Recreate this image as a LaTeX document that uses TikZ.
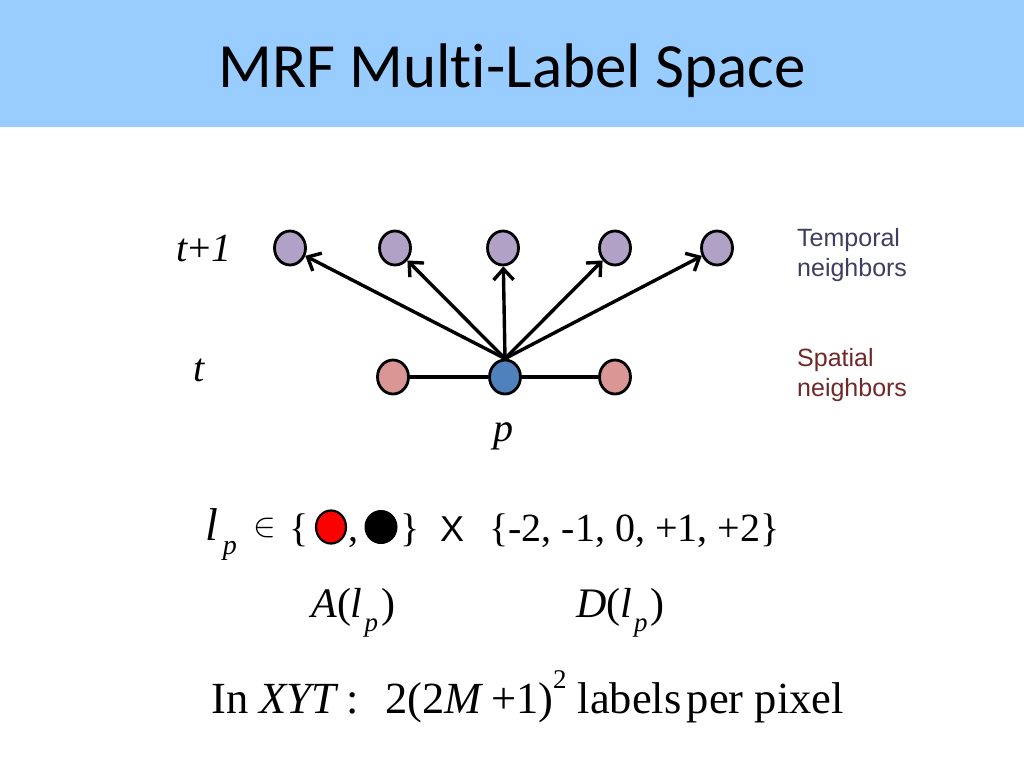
\documentclass[tikz,border=0pt]{standalone}
\usepackage{fontspec}
\usepackage{graphicx}
\setmainfont{Liberation Serif}
\newfontfamily\titlefont[Ligatures={NoCommon,NoDiscretionary,NoRare}]{Carlito}
\newfontfamily\arialfont{Liberation Sans}
\usetikzlibrary{arrows.meta,shapes.geometric}
\definecolor{band}{RGB}{153,204,255}
\definecolor{purp}{RGB}{178,161,199}
\definecolor{pinkc}{RGB}{217,150,148}
\definecolor{bluec}{RGB}{79,129,189}
\definecolor{tempc}{RGB}{64,62,96}
\definecolor{spatc}{RGB}{112,40,40}
\newcommand{\sub}[2]{\raisebox{-#2pt}{\fontsize{#1}{#1}\selectfont\textit{p}}}
\begin{document}
\begin{tikzpicture}[x=1pt,y=-1pt,
  dot/.style={ellipse, draw=black, line width=2.8pt, minimum width=31pt, minimum height=34pt, inner sep=0pt},
  arr/.style={line width=3.4pt, -{Straight Barb[length=11pt,width=20pt,line width=3.4pt]}},
  link/.style={line width=3.4pt},
  big/.style={font=\fontsize{40}{46}\selectfont, inner sep=0pt},
  side/.style={font=\arialfont\fontsize{25}{30}\selectfont, align=left, inner sep=0pt}]
\useasboundingbox (0,0) rectangle (1024,768);
\fill[white] (0,0) rectangle (1024,768);
\fill[band] (0,0) rectangle (1024,127);
\node[font=\titlefont\fontsize{63}{70}\selectfont, anchor=base, inner sep=0pt] (title) at (512,87) {MRF Mult\kern0pt i-Label Space};
% graph
\node[dot, fill=purp] (u1) at (290,248) {};
\node[dot, fill=purp] (u2) at (395,248) {};
\node[dot, fill=purp] (u3) at (503,248) {};
\node[dot, fill=purp] (u4) at (615,248) {};
\node[dot, fill=purp] (u5) at (717,248) {};
\node[dot, fill=pinkc] (s1) at (393,377) {};
\node[dot, fill=bluec] (p) at (505,377) {};
\node[dot, fill=pinkc] (s2) at (615,377) {};
\draw[link] (s1) -- (p) -- (s2);
\foreach \n in {u1,u2,u3,u4,u5} \draw[arr] (p.north) -- (\n);
\node[big, anchor=base] (lt1) at (204,261) {\textit{t}+\textit{1}};
\node[big, anchor=base] (lt) at (199,381) {\textit{t}};
\node[big, anchor=base] (lp) at (503,441) {\textit{p}};
\node[side, text=tempc, anchor=base west] (temp) at (797,276) {Temporal\\neighbors};
\node[side, text=spatc, anchor=base west] (spat) at (797,396) {Spatial\\neighbors};
% formula
\node[font=\fontsize{46}{50}\selectfont, inner sep=0pt, anchor=base west] (f1) at (205,540) {\textit{l}\kern5pt\sub{28}{14}};
\node[inner sep=0pt] (f2) at (265,528) {\scalebox{3.4}{$\in$}};
\node[big, anchor=base] (f3) at (299,541) {\{};
\node[ellipse, draw=black, line width=2.2pt, fill=red, minimum width=30pt, minimum height=33pt, inner sep=0pt] (red) at (331,527) {};
\node[big, anchor=base] (f4) at (353,541) {,};
\node[ellipse, draw=black, line width=1pt, fill=black, minimum width=32pt, minimum height=33pt, inner sep=0pt] (blk) at (381,527) {};
\node[big, anchor=base] (f5) at (410,541) {\}};
\node[font=\arialfont\fontsize{36}{40}\selectfont, inner sep=0pt, anchor=base] (x) at (452,541) {X};
\node[big, anchor=base west] (f6) at (489,541) {\{-2, -1, 0, +1, +2\}};
\node[big, font=\fontsize{42}{46}\selectfont, anchor=base west] (A) at (311,617) {\textit{A}(\textit{l}\kern2pt\sub{27}{14}\kern3pt)};
\node[big, font=\fontsize{42}{46}\selectfont, anchor=base west] (D) at (576,617) {\textit{D}(\textit{l}\kern2pt\sub{27}{14}\kern3pt)};
% bottom line
\node[font=\fontsize{44.5}{52}\selectfont, inner sep=0pt, anchor=base west] (xyt) at (211,713)
  {In \textit{XYT}\,:\hspace{0.6em}2(2\textit{M}\,+1)\raisebox{0.55em}{\fontsize{27}{30}\selectfont 2} labels\hspace{0.12em}per pixel};
\end{tikzpicture}
\end{document}
